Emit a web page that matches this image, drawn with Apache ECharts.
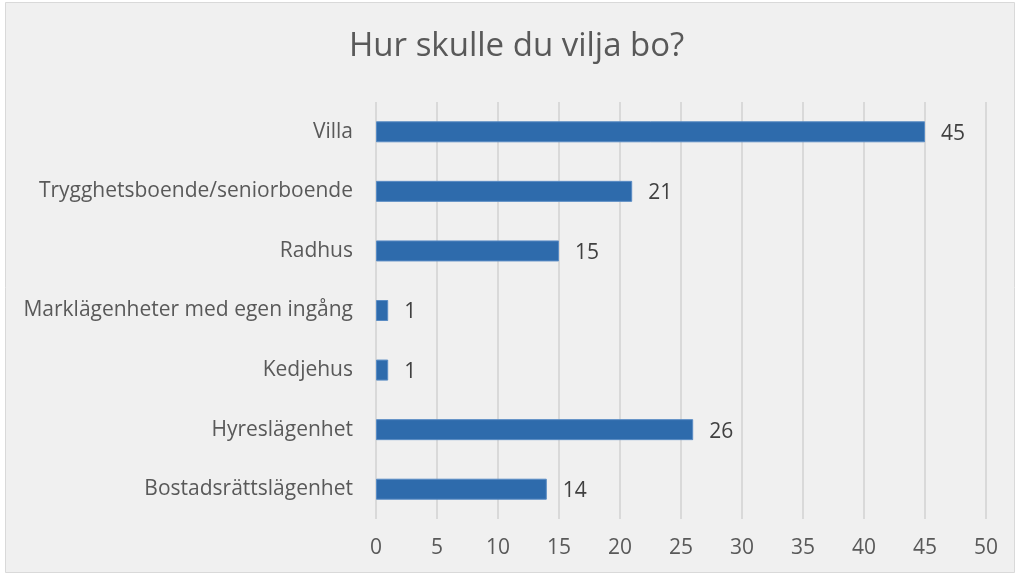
<!DOCTYPE html>
<html><head><meta charset="utf-8">
<script src="https://cdn.jsdelivr.net/npm/echarts@6/dist/echarts.min.js"></script>
<style>html,body{margin:0;padding:0;background:#fff}#c{width:1016px;height:575px}</style>
</head><body><div id="c"></div>
<script>
const categories = ["Villa","Trygghetsboende/seniorboende","Radhus","Marklägenheter med egen ingång","Kedjehus","Hyreslägenhet","Bostadsrättslägenhet"];
const values = [45,21,15,1,1,26,14];
const xTicks = [0,5,10,15,20,25,30,35,40,45,50];
const title = "Hur skulle du vilja bo?";
const font = "'Open Sans', 'Liberation Sans', sans-serif";
const chart = echarts.init(document.getElementById('c'), null, {renderer:'canvas'});
chart.setOption({
  animation:false,
  backgroundColor:'#ffffff',
  graphic:[{type:'rect',shape:{x:5.5,y:2.5,width:1009,height:570},style:{fill:'#F0F0F0',stroke:'#D9D9D9',lineWidth:1},z:-10}],
  title:{text:title,left:344,top:25,textStyle:{fontFamily:font,fontSize:33,fontWeight:'normal',color:'#595959'}},
  grid:{left:376,right:30,top:102,bottom:56,containLabel:false},
  xAxis:{type:'value',min:0,max:50,interval:5,
    axisLine:{show:false},axisTick:{show:false},
    axisLabel:{fontFamily:font,fontSize:21,color:'#595959',margin:19,formatter:v=>xTicks.includes(v)?String(v):''},
    splitLine:{lineStyle:{color:'#D9D9D9',width:2}}},
  yAxis:{type:'category',data:categories,inverse:true,
    axisLine:{show:false},axisTick:{show:false},
    axisLabel:{fontFamily:font,fontSize:21,color:'#595959',margin:23}},
  series:[{type:'bar',data:values,barWidth:21,
    itemStyle:{color:'#2E6BAC',borderColor:'#5A8CC4',borderWidth:1},
    label:{show:true,position:'right',distance:16,fontFamily:font,fontSize:21,color:'#404040',offset:[0,2]}}]
});
</script></body></html>
